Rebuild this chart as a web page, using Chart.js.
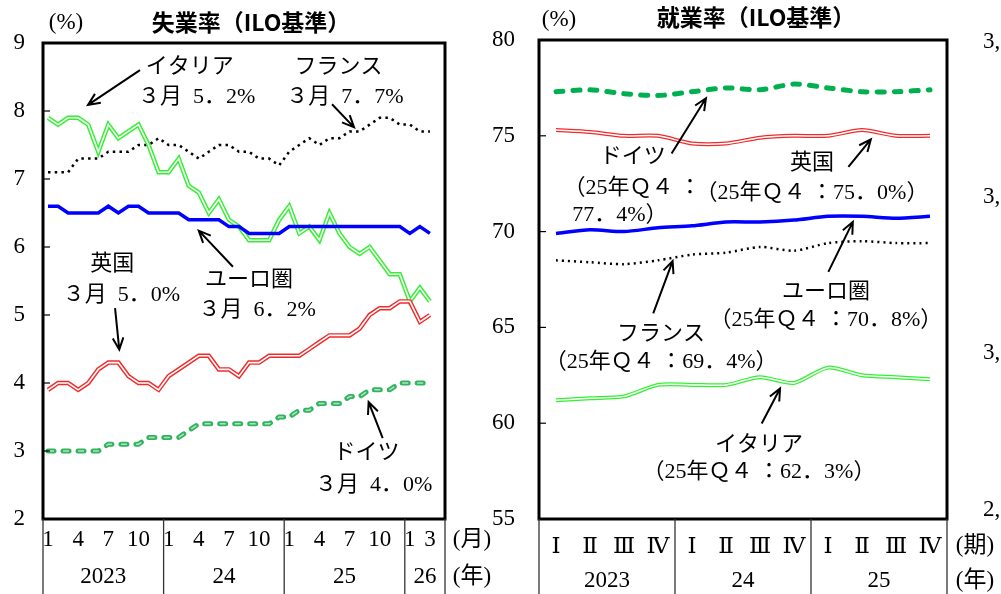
<!DOCTYPE html>
<html>
<head>
<meta charset="utf-8">
<script src="https://cdn.jsdelivr.net/npm/chart.js@4.4.1/dist/chart.umd.min.js"></script>
<style>
  html, body { margin: 0; padding: 0; background: #fff; }
  #wrap { position: relative; width: 1001px; height: 594px; overflow: hidden; }
  canvas { position: absolute; left: 0; top: 0; }
</style>
</head>
<body>
<div id="wrap">
  <canvas id="unemp" width="1001" height="594"></canvas>
  <canvas id="emp" width="1001" height="594"></canvas>
</div>
<script>
// ---- 失業率 (monthly, 2023/1 - 2026/3) ----
const monthLabels = ['1','','','4','','','7','','','10','','',
  '1','','','4','','','7','','','10','','',
  '1','','','4','','','7','','','10','','',
  '1','','3',''];
const monthYears = ['2023', '24', '25', '26'];
const monthYearSpans = [12, 12, 12, 4];

const italyU   = [7.9,7.8,7.9,7.9,7.8,7.4,7.8,7.6,7.7,7.8,7.5,7.1,7.1,7.3,6.9,6.8,6.5,6.7,6.4,6.3,
                  6.1,6.1,6.1,6.4,6.6,6.2,6.3,6.1,6.5,6.2,6.0,5.9,6.0,5.8,5.6,5.6,5.2,5.4,5.2];
const franceU  = [7.1,7.1,7.1,7.3,7.3,7.3,7.4,7.4,7.4,7.5,7.5,7.6,7.5,7.5,7.4,7.3,7.4,7.5,7.5,7.4,
                  7.4,7.3,7.3,7.2,7.4,7.5,7.6,7.5,7.6,7.6,7.7,7.7,7.8,7.9,7.9,7.8,7.8,7.7,7.7];
const euroU    = [6.6,6.6,6.5,6.5,6.5,6.5,6.6,6.5,6.6,6.6,6.5,6.5,6.5,6.5,6.4,6.4,6.4,6.4,6.3,6.3,
                  6.2,6.2,6.2,6.2,6.3,6.3,6.3,6.3,6.3,6.3,6.3,6.3,6.3,6.3,6.3,6.3,6.2,6.3,6.2];
const ukU      = [3.9,4.0,4.0,3.9,4.0,4.2,4.3,4.3,4.1,4.0,4.0,3.9,4.1,4.2,4.3,4.4,4.4,4.2,4.2,4.1,
                  4.3,4.3,4.4,4.4,4.4,4.4,4.5,4.6,4.7,4.7,4.7,4.8,5.0,5.1,5.1,5.2,5.2,4.9,5.0];
const germanyU = [3.0,3.0,3.0,3.0,3.0,3.0,3.1,3.1,3.1,3.1,3.2,3.2,3.2,3.2,3.3,3.4,3.4,3.4,3.4,3.4,
                  3.4,3.4,3.4,3.5,3.5,3.6,3.6,3.7,3.7,3.7,3.8,3.8,3.9,3.9,3.9,4.0,4.0,4.0,4.0];

// ---- 就業率 (quarterly, 2023Q1 - 2025Q4) ----
const quarterLabels = ['Ⅰ','Ⅱ','Ⅲ','Ⅳ','Ⅰ','Ⅱ','Ⅲ','Ⅳ','Ⅰ','Ⅱ','Ⅲ','Ⅳ'];
const quarterYears = ['2023', '24', '25'];
const quarterYearSpans = [4, 4, 4];

const germanyE = [77.3,77.4,77.2,77.1,77.3,77.5,77.4,77.7,77.5,77.3,77.3,77.4];
const ukE      = [75.3,75.2,75.0,75.0,74.6,74.6,74.9,75.0,75.0,75.3,75.0,75.0];
const euroE    = [69.9,70.1,70.0,70.2,70.3,70.5,70.5,70.6,70.8,70.8,70.7,70.8];
const franceE  = [68.5,68.4,68.3,68.5,68.8,68.9,69.2,69.0,69.4,69.5,69.4,69.4];
const italyE   = [61.2,61.3,61.4,62.0,62.0,62.0,62.4,62.1,62.9,62.5,62.4,62.3];

// annotation texts and arrows, in data units (category index, value)
const notesU = [
  { t: 'イタリア', x: 14.1, y: 8.65 }, { t: '３月  5．2%', x: 14.8, y: 8.21 },
  { t: 'フランス', x: 28.9, y: 8.65 }, { t: '３月  7．7%', x: 29.55, y: 8.21 },
  { t: '英国', x: 6.4, y: 5.74 },      { t: '３月  5．0%', x: 7.3, y: 5.29 },
  { t: 'ユーロ圏', x: 20.0, y: 5.51 }, { t: '３月  6．2%', x: 20.8, y: 5.07 },
  { t: 'ドイツ', x: 31.7, y: 2.97 },   { t: '３月  4．0%', x: 32.4, y: 2.5 }
];
const arrowsU = [
  [[9.15, 8.6], [3.98, 8.09]],
  [[28.26, 8.1], [30.45, 7.76]],
  [[6.67, 5.1], [7.09, 4.49]],
  [[18.4, 5.71], [15.0, 6.24]],
  [[33.3, 3.19], [31.9, 3.72]]
];
const notesE = [
  { t: 'ドイツ', x: 2.26, y: 73.89 }, { t: '（25年Ｑ４ ：', x: 2.24, y: 72.27 }, { t: '77．4%）', x: 1.88, y: 70.86 },
  { t: '英国', x: 7.53, y: 73.58 },   { t: '（25年Ｑ４ ：75．0%）', x: 7.53, y: 72.0 },
  { t: 'ユーロ圏', x: 7.94, y: 66.86 }, { t: '（25年Ｑ４ ：70．8%）', x: 7.94, y: 65.38 },
  { t: 'フランス', x: 3.09, y: 64.65 }, { t: '（25年Ｑ４ ：69．4%）', x: 3.09, y: 63.2 },
  { t: 'イタリア', x: 5.97, y: 58.85 }, { t: '（25年Ｑ４ ：62．3%）', x: 5.97, y: 57.46 }
];
const arrowsE = [
  [[3.4, 74.08], [4.41, 76.96]],
  [[8.6, 73.38], [9.26, 74.81]],
  [[8.01, 67.9], [8.73, 70.51]],
  [[2.86, 65.73], [3.43, 68.46]],
  [[6.05, 59.98], [6.59, 61.81]]
];

const SERIF = '"Liberation Serif", "DejaVu Serif", "Noto Sans CJK JP", serif';
const SANS = '"Noto Sans CJK JP", "Noto Sans", sans-serif';

function doubleLine(data, color, outer, inner, order, tension) {
  return [
    { data, borderColor: '#fff', borderWidth: inner, order, tension },
    { data, borderColor: color, borderWidth: outer, order: order + 1, tension }
  ];
}

function dashedLine(data, color, width, dash, order, tension, core) {
  const sets = [{ data, borderColor: color, borderWidth: width, borderDash: dash,
    borderCapStyle: 'round', order: order + 1, tension }];
  if (core) sets.unshift({ data, borderColor: core, borderWidth: 1.5, borderDash: dash, order, tension });
  return sets;
}

function arrow(ctx, x1, y1, x2, y2) {
  const a = Math.atan2(y2 - y1, x2 - x1), h = 13, s = 0.42;
  ctx.beginPath();
  ctx.moveTo(x1, y1);
  ctx.lineTo(x2, y2);
  ctx.moveTo(x2 - h * Math.cos(a - s), y2 - h * Math.sin(a - s));
  ctx.lineTo(x2, y2);
  ctx.lineTo(x2 - h * Math.cos(a + s), y2 - h * Math.sin(a + s));
  ctx.stroke();
}

function decor(cfg) {
  return {
    id: 'decor',
    afterDraw(chart) {
      const { ctx, chartArea: a, scales: { x, y } } = chart;
      ctx.save();
      ctx.strokeStyle = '#000';
      ctx.fillStyle = '#000';

      // inner tick marks
      ctx.lineWidth = 1.2;
      y.ticks.forEach(t => {
        const py = y.getPixelForValue(t.value);
        ctx.beginPath(); ctx.moveTo(a.left, py); ctx.lineTo(a.left + 7, py); ctx.stroke();
      });

      // frame
      ctx.lineWidth = 3;
      ctx.strokeRect(a.left, a.top, a.right - a.left, a.bottom - a.top);

      // year groups under the axis
      ctx.lineWidth = 1.3;
      ctx.strokeStyle = '#333';
      ctx.font = '23px ' + SERIF;
      ctx.textAlign = 'center';
      ctx.textBaseline = 'middle';
      let k = 0;
      const divider = px => { ctx.beginPath(); ctx.moveTo(px, a.bottom); ctx.lineTo(px, 594); ctx.stroke(); };
      cfg.years.forEach((yr, i) => {
        divider(x.getPixelForValue(k - 0.5));
        const n = cfg.spans[i];
        ctx.fillText(yr, x.getPixelForValue(k + n / 2 - 0.5), cfg.yearY);
        k += n;
      });
      divider(x.getPixelForValue(k - 0.5));

      // static labels
      cfg.statics.forEach(s => {
        ctx.font = s.font;
        ctx.textAlign = s.align || 'center';
        ctx.fillText(s.t, s.x, s.y);
      });

      // annotations
      ctx.font = '22px ' + SERIF;
      ctx.textAlign = 'center';
      cfg.notes.forEach(n => ctx.fillText(n.t, x.getPixelForValue(n.x), y.getPixelForValue(n.y)));
      ctx.strokeStyle = '#000';
      ctx.lineWidth = 2;
      cfg.arrows.forEach(([p, q]) => arrow(ctx,
        x.getPixelForValue(p[0]), y.getPixelForValue(p[1]),
        x.getPixelForValue(q[0]), y.getPixelForValue(q[1])));
      ctx.restore();
    }
  };
}

function makeChart(id, opt) {
  return new Chart(document.getElementById(id), {
    type: 'line',
    data: { labels: opt.labels, datasets: opt.datasets },
    options: {
      responsive: false,
      animation: false,
      layout: { padding: opt.pad },
      plugins: { legend: { display: false }, tooltip: { enabled: false } },
      elements: { point: { radius: 0 }, line: { fill: false } },
      scales: {
        x: {
          type: 'category',
          offset: true,
          grid: { display: false, drawTicks: false },
          border: { display: false },
          ticks: { autoSkip: false, maxRotation: 0, padding: opt.xPad, color: '#000',
                   font: { family: SERIF, size: 23 } },
          afterFit(s) { s.height = 75; s.paddingLeft = 0; s.paddingRight = 0; }
        },
        y: {
          min: opt.yMin, max: opt.yMax,
          grid: { display: false, drawTicks: false },
          border: { display: false },
          ticks: { stepSize: opt.yStep, padding: opt.yPad, color: '#000',
                   font: { family: SERIF, size: 23 } },
          afterFit(s) { s.width = opt.yWidth; s.paddingTop = 0; s.paddingBottom = 0; }
        }
      }
    },
    plugins: [decor(opt)]
  });
}

makeChart('unemp', {
  labels: monthLabels,
  datasets: [
    ...dashedLine(germanyU, '#33b35f', 5, [6, 9], 0, 0, '#a8e6bf'),
    ...doubleLine(ukU, '#f02a2a', 4.5, 1.6, 2, 0),
    { data: euroU, borderColor: '#0000ff', borderWidth: 3.5, order: 4 },
    ...doubleLine(italyU, '#33f033', 4.5, 1.6, 5, 0),
    { data: franceU, borderColor: '#000', borderWidth: 2.5, borderDash: [2.5, 4.2], order: 7 }
  ],
  pad: { left: 1, right: 556, top: 43, bottom: 0 },
  xPad: 7, yPad: 18, yWidth: 42, yMin: 2, yMax: 9, yStep: 1,
  years: monthYears, spans: monthYearSpans, yearY: 577,
  notes: notesU, arrows: arrowsU,
  statics: [
    { t: '失業率（ILO基準）', x: 251, y: 22, font: '700 23px ' + SANS },
    { t: '(%)', x: 66, y: 23, font: '23px ' + SERIF },
    { t: '(月)', x: 472, y: 540, font: '23px ' + SERIF },
    { t: '(年)', x: 472, y: 577, font: '23px ' + SERIF }
  ]
});

makeChart('emp', {
  labels: quarterLabels,
  datasets: [
    ...dashedLine(germanyE, '#00b050', 5, [7, 10], 0, 0.25, null),
    ...doubleLine(ukE, '#f02a2a', 4, 1.5, 2, 0.25),
    { data: euroE, borderColor: '#0000ff', borderWidth: 3.5, order: 4, tension: 0.25 },
    { data: franceE, borderColor: '#000', borderWidth: 2.5, borderDash: [2, 4], order: 5, tension: 0.25 },
    ...doubleLine(italyE, '#33f033', 4, 1.5, 6, 0.25)
  ],
  pad: { left: 474, right: 54, top: 40, bottom: 0 },
  xPad: 14, yPad: 24, yWidth: 65, yMin: 55, yMax: 80, yStep: 5,
  years: quarterYears, spans: quarterYearSpans, yearY: 581,
  notes: notesE, arrows: arrowsE,
  statics: [
    { t: '就業率（ILO基準）', x: 756, y: 17, font: '700 23px ' + SANS },
    { t: '(%)', x: 559, y: 20, font: '23px ' + SERIF },
    { t: '(期)', x: 975, y: 546, font: '23px ' + SERIF },
    { t: '(年)', x: 975, y: 581, font: '23px ' + SERIF },
    { t: '3,', x: 983, y: 42, font: '23px ' + SERIF, align: 'left' },
    { t: '3,', x: 983, y: 197, font: '23px ' + SERIF, align: 'left' },
    { t: '3,', x: 983, y: 353, font: '23px ' + SERIF, align: 'left' },
    { t: '2,', x: 983, y: 510, font: '23px ' + SERIF, align: 'left' }
  ]
});
</script>
</body>
</html>
